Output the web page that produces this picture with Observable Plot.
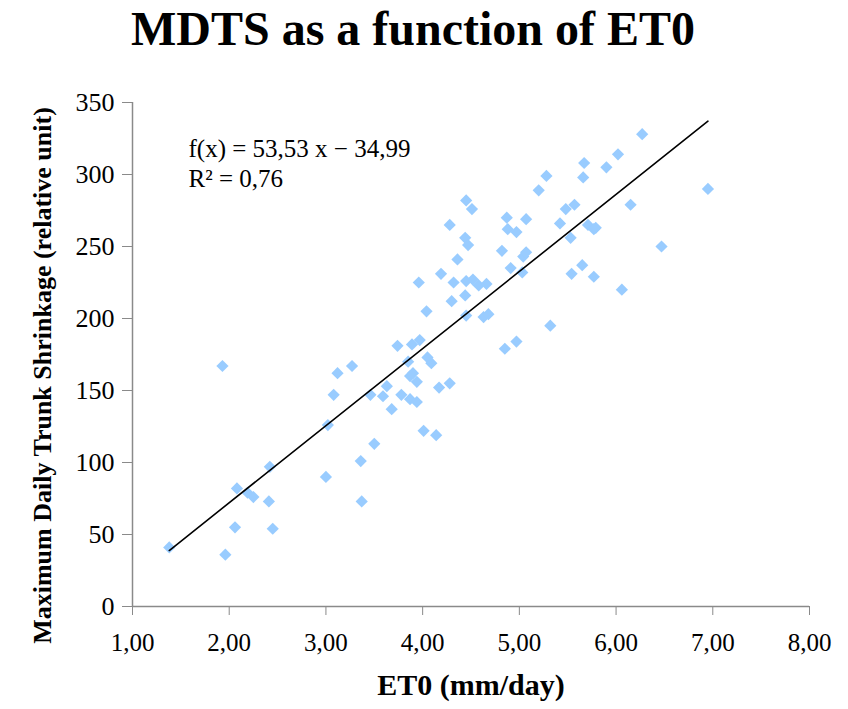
<!DOCTYPE html>
<html>
<head>
<meta charset="utf-8">
<script src="https://cdn.jsdelivr.net/npm/d3@7"></script>
<script src="https://cdn.jsdelivr.net/npm/@observablehq/plot@0.6"></script>
<style>
  html, body { margin: 0; padding: 0; background: #fff; }
  #title {
    width: 848px; height: 58px; line-height: 58px; text-align: center;
    font-family: "Liberation Serif", "Times New Roman", serif;
    font-weight: bold; font-size: 48px; color: #000;
    position: relative; left: -11px;
  }
  #chart svg { display: block; overflow: visible; }
</style>
</head>
<body>
<div id="title">MDTS as a function of ET0</div>
<div id="chart"></div>
<script>
const titleText = "MDTS as a function of ET0";
const xLabel = "ET0 (mm/day)";
const yLabel = "Maximum Daily Trunk Shrinkage (relative unit)";

const et0 = [
  1.38, 1.93, 1.96, 2.06, 2.08, 2.19, 2.25, 2.42, 2.41, 2.45,
  3.00, 3.02, 3.08, 3.12, 3.27, 3.36, 3.37, 3.46, 3.50, 3.59,
  3.63, 3.68, 3.74, 3.78, 3.85, 3.87, 3.90, 3.94, 3.87, 3.94,
  3.89, 3.97, 3.96, 4.01, 4.04, 4.05, 4.09, 4.14, 4.17, 4.28,
  4.19, 4.28, 4.30, 4.32, 4.36, 4.44, 4.45, 4.44, 4.47, 4.45,
  4.52, 4.45, 4.51, 4.58, 4.66, 4.63, 4.68, 4.82, 4.85, 4.87,
  4.88, 4.91, 4.97, 4.97, 5.03, 5.04, 5.07, 5.07, 5.20, 5.28,
  5.32, 5.42, 5.48, 5.53, 5.54, 5.57, 5.65, 5.66, 5.67, 5.71,
  5.77, 5.79, 5.77, 5.90, 6.02, 6.06, 6.15, 6.27, 6.47, 6.95
];
const mdts = [
  41, 167, 36, 55, 82, 79, 76, 97, 73, 54,
  90, 126, 147, 162, 167, 101, 73, 147, 113, 146,
  153, 137, 181, 147, 170, 160, 162, 156, 144, 142,
  182, 185, 225, 122, 205, 173, 169, 119, 152, 155,
  231, 265, 212, 225, 241, 216, 202, 256, 251, 226,
  227, 282, 276, 223, 224, 201, 203, 247, 179, 270,
  262, 235, 260, 184, 232, 243, 246, 269, 289, 299,
  195, 266, 276, 256, 231, 279, 237, 298, 308, 265,
  262, 263, 229, 305, 314, 220, 279, 328, 250, 290
];
const slope = 53.53;
const intercept = -34.99;
const equationLines = ["f(x) = 53,53 x − 34,99", "R² = 0,76"];
const xTicks = [1, 2, 3, 4, 5, 6, 7, 8];
const yTicks = [0, 50, 100, 150, 200, 250, 300, 350];

const points = et0.map((x, i) => ({x, y: mdts[i]}));
const xMin = d3.min(et0), xMax = d3.max(et0);
const fitLine = [xMin, xMax].map(x => ({x, y: slope * x + intercept}));

const serif = "'Liberation Serif', 'Times New Roman', serif";
const axisGray = "#8a8a8a";

const chart = Plot.plot({
  width: 848,
  height: 651,
  marginTop: 44,
  marginBottom: 103,
  marginLeft: 132,
  marginRight: 39,
  style: {fontFamily: serif, background: "#fff", color: "#000", overflow: "visible"},
  x: {domain: [1, 8]},
  y: {domain: [0, 350]},
  marks: [
    Plot.axisX(xTicks, {
      tickSize: 9, tickPadding: 18, stroke: axisGray, fill: "#000",
      fontSize: 25, label: null,
      tickFormat: d => d.toFixed(2).replace(".", ",")
    }),
    Plot.axisY(yTicks, {
      tickSize: 10, tickPadding: 8, stroke: axisGray, fill: "#000",
      fontSize: 26, label: null
    }),
    Plot.ruleY([0], {stroke: axisGray, strokeWidth: 1.5}),
    Plot.ruleX([1], {stroke: axisGray, strokeWidth: 1.5}),
    Plot.dot(points, {
      x: "x", y: "y", symbol: "diamond2", r: 5.5,
      fill: "#99ccff", stroke: "none"
    }),
    Plot.line(fitLine, {x: "x", y: "y", stroke: "#000", strokeWidth: 1.6}),
    Plot.text([equationLines.join("\n")], {
      frameAnchor: "top-left", textAnchor: "start", lineAnchor: "top",
      dx: 56, dy: 33, fontSize: 25, lineHeight: 1.2, fill: "#000"
    }),
    Plot.text([xLabel], {
      frameAnchor: "bottom", textAnchor: "middle", dy: 88, fontSize: 30,
      fontWeight: "bold", fill: "#000"
    }),
    Plot.text([yLabel], {
      frameAnchor: "left", textAnchor: "middle", rotate: -90, dx: -90, dy: 21,
      fontSize: 26, fontWeight: "bold", fill: "#000"
    })
  ]
});
document.getElementById("chart").appendChild(chart);
</script>
</body>
</html>
